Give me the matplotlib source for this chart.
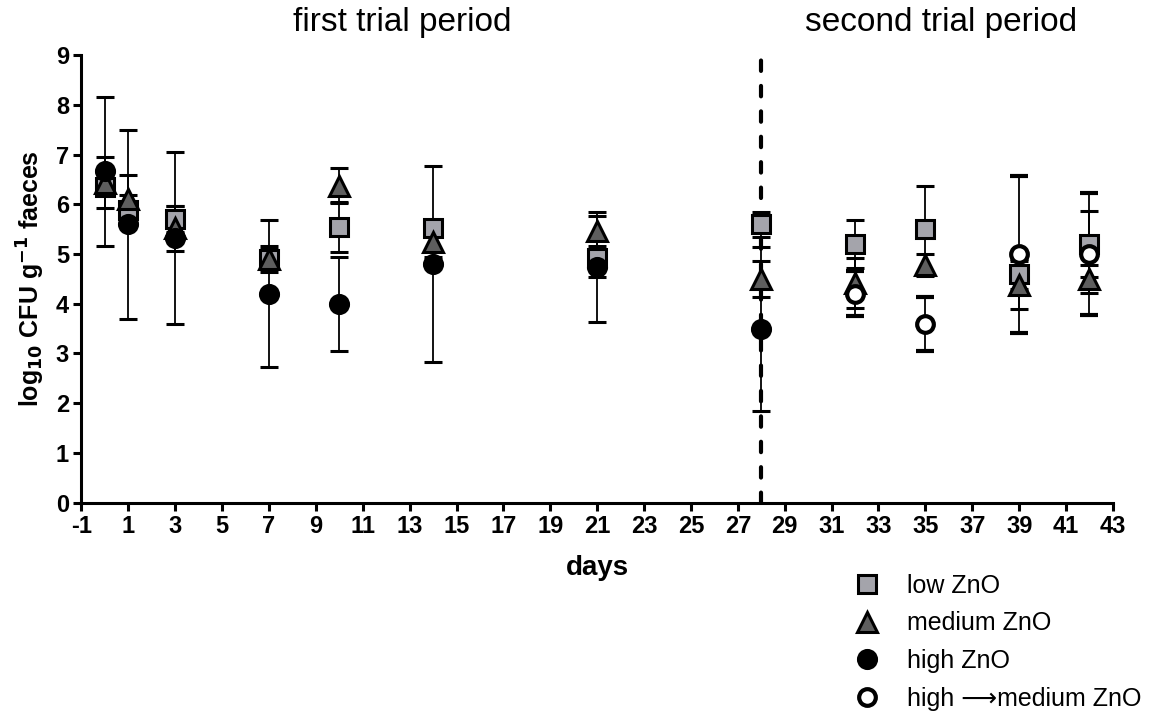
import numpy as np
import matplotlib
matplotlib.use("Agg")
import matplotlib.pyplot as plt

plt.rcParams['font.family'] = ['Liberation Sans', 'DejaVu Sans']
plt.rcParams['axes.unicode_minus'] = False

# days sampled
days_all = [0, 1, 3, 7, 10, 14, 21, 28, 32, 35, 39, 42]
days_high = [0, 1, 3, 7, 10, 14, 21, 28]
days_switch = [32, 35, 39, 42]

# mean log10 CFU and SD
low_mean = [6.34, 5.88, 5.70, 4.90, 5.55, 5.52, 4.92, 5.60, 5.20, 5.50, 4.60, 5.20]
low_sd = [0.10, 0.30, 0.26, 0.27, 0.50, 0.15, 0.38, 0.25, 0.48, 0.87, 0.30, 0.67]
med_mean = [6.44, 6.10, 5.52, 4.90, 6.38, 5.25, 5.47, 4.50, 4.42, 4.78, 4.38, 4.50]
med_sd = [0.51, 0.50, 0.45, 0.20, 0.35, 0.30, 0.30, 0.37, 0.51, 0.22, 0.49, 0.29]
high_mean = [6.67, 5.60, 5.33, 4.20, 4.00, 4.80, 4.74, 3.50]
high_sd = [1.50, 1.90, 1.73, 1.48, 0.95, 1.98, 1.10, 1.65]
switch_mean = [4.20, 3.60, 5.00, 5.00]
switch_sd = [0.45, 0.54, 1.58, 1.22]

fig = plt.figure(figsize=(11.69, 7.18), dpi=100)
ax = fig.add_axes([0.0697, 0.300, 0.8823, 0.623])

err_kw = dict(ecolor='black', elinewidth=1.3, capsize=6.8, capthick=2.0,
              linestyle='none', markeredgecolor='black', markeredgewidth=2.2)

# dashed line marking the change of trial period
ax.axvline(28, color='black', lw=3, linestyle=(0, (2.5, 3.6)),
           dash_capstyle='round', zorder=1)

h1 = ax.errorbar(days_all, low_mean, yerr=low_sd, marker='s', markersize=13,
                 markerfacecolor='#a4a4ab', **err_kw)
h2 = ax.errorbar(days_all, med_mean, yerr=med_sd, marker='^', markersize=14,
                 markerfacecolor='#5e5e5e', **err_kw)
h3 = ax.errorbar(days_high, high_mean, yerr=high_sd, marker='o', markersize=13,
                 markerfacecolor='black', **err_kw)
err_kw['markeredgewidth'] = 3.0
h4 = ax.errorbar(days_switch, switch_mean, yerr=switch_sd, marker='o', markersize=12,
                 markerfacecolor='white', **err_kw)

ax.set_xlim(-1, 43)
ax.set_ylim(0, 9)
ax.set_xticks(np.arange(-1, 44, 2))
ax.set_yticks(np.arange(0, 10, 1))
for side in ['top', 'right']:
    ax.spines[side].set_visible(False)
for side in ['left', 'bottom']:
    ax.spines[side].set_linewidth(2.2)
ax.tick_params(direction='out', length=6, width=2.2, labelsize=17, pad=3)
for lab in ax.get_xticklabels() + ax.get_yticklabels():
    lab.set_fontweight('bold')

ax.set_xlabel('days', fontsize=20, fontweight='bold', labelpad=12)
ax.set_ylabel('log$_{\\mathbf{10}}$ CFU g$^{\\mathbf{-1}}$ faeces', fontsize=18,
              fontweight='bold', labelpad=6)

fig.text(0.344, 0.968, 'first trial period', fontsize=24, ha='center', va='center')
fig.text(0.805, 0.968, 'second trial period', fontsize=24, ha='center', va='center')

fig.legend(handles=[h1[0], h2[0], h3[0], h4[0]],
           labels=['low ZnO', 'medium ZnO', 'high ZnO', 'high \u27f6medium ZnO'],
           loc='upper left', bbox_to_anchor=(0.722, 0.215), frameon=False,
           fontsize=18, handlelength=1.0, handletextpad=1.1, labelspacing=0.55,
           borderaxespad=0)

fig.savefig('out.png', dpi=100)
